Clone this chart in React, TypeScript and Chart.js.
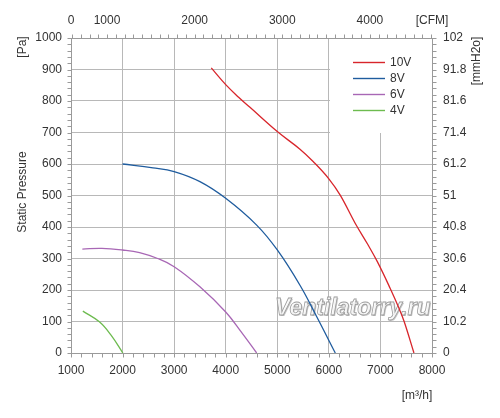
import { useEffect, useRef } from "react";
import { Chart, registerables } from "chart.js";

Chart.register(...registerables);

// ---- data ----
const seriesLabels = ["10V", "8V", "6V", "4V"];

const flow10V = [3720, 4000, 4250, 4470, 5000, 5440, 5700, 6000, 6220, 6510, 6750, 6940, 7190, 7350, 7460, 7650];
const pressure10V = [905, 852, 812, 780, 703, 647, 607, 553, 501, 412, 346, 290, 205, 146, 100, 0];

const flow8V = [2000, 2590, 3000, 3500, 4000, 4600, 5000, 5440, 5765, 6125];
const pressure8V = [600, 588, 576, 544, 491, 406, 327, 215, 115, 0];

const flow6V = [1220, 1600, 2000, 2330, 2680, 3000, 3500, 4000, 4300, 4600];
const pressure6V = [330, 332, 327, 319, 300, 274, 210, 130, 67, 0];

const flow4V = [1230, 1550, 1780, 2005];
const pressure4V = [133, 99, 56, 0];

const flowTicks = [1000, 2000, 3000, 4000, 5000, 6000, 7000, 8000];
const pressureTicks = [0, 100, 200, 300, 400, 500, 600, 700, 800, 900, 1000];
const mmH2oTicks = [0, 10.2, 20.4, 30.6, 40.8, 51, 61.2, 71.4, 81.6, 91.8, 102];
const cfmTicks = [1000, 2000, 3000, 4000];
const cfmEdgeLabels = ["0", "[CFM]"];

const M3H_PER_CFM = 1.699;
const MINOR_FLOW_STEP = 200;
const MINOR_CFM_STEP = 100;
const MINOR_PA_STEP = 20;
const MINOR_MM_STEP = 2.04;

// ---- styles ----
const seriesColors = ["#d8252b", "#1f5c9e", "#a867b5", "#6dbb4f"];
const FONT = "'Liberation Sans', Arial, sans-serif";
const TEXT = "#333333";
const GRID = "#b8b8b8";
const BORDER = "#9a9a9a";

const crisp = (v: number) => Math.round(v) + 0.5;

const decorPlugin = {
  id: "decor",
  beforeDatasetsDraw(chart: any) {
    const { ctx, chartArea, scales } = chart;
    const x = scales.x;
    const y = scales.y;
    const bx = crisp(x.getPixelForValue(6000)) + 0.5;
    const by = crisp(y.getPixelForValue(1000)) + 0.5;
    const bb = crisp(y.getPixelForValue(700)) - 0.5;
    const br = crisp(chartArea.right) - 0.5;
    ctx.save();
    ctx.fillStyle = "#ffffff";
    ctx.fillRect(bx, by, br - bx, bb - by);
    ctx.restore();

    // watermark
    ctx.save();
    ctx.font = `italic bold 23px ${FONT}`;
    ctx.textBaseline = "alphabetic";
    ctx.textAlign = "left";
    const wx = chartArea.left + 204;
    const wy = chartArea.bottom - 38;
    ctx.fillStyle = "rgba(160,160,160,0.6)";
    ctx.fillText("Ventilatorry.ru", wx + 1, wy + 1);
    ctx.fillStyle = "rgba(255,255,255,0.8)";
    ctx.fillText("Ventilatorry.ru", wx, wy);
    ctx.strokeStyle = "rgba(150,150,150,0.95)";
    ctx.lineWidth = 0.8;
    ctx.strokeText("Ventilatorry.ru", wx, wy);
    ctx.restore();
  },
  afterDraw(chart: any) {
    const { ctx, chartArea, scales } = chart;
    const { left, right, top, bottom } = chartArea;
    ctx.save();
    ctx.strokeStyle = BORDER;
    ctx.lineWidth = 1;
    ctx.beginPath();
    const TL = 4;
    for (let v = 0; v <= 1000 + 1e-6; v += MINOR_PA_STEP) {
      const py = crisp(scales.y.getPixelForValue(v));
      ctx.moveTo(crisp(left) - TL, py);
      ctx.lineTo(crisp(left), py);
    }
    for (let i = 0; i <= 50; i++) {
      const py = crisp(scales.y2.getPixelForValue(i * MINOR_MM_STEP));
      ctx.moveTo(crisp(right), py);
      ctx.lineTo(crisp(right) + TL, py);
    }
    for (let v = 1000; v <= 8000; v += MINOR_FLOW_STEP) {
      const px = crisp(scales.x.getPixelForValue(v));
      ctx.moveTo(px, crisp(bottom));
      ctx.lineTo(px, crisp(bottom) + TL);
    }
    for (let v = 600; v <= 4700; v += MINOR_CFM_STEP) {
      const px = crisp(scales.x2.getPixelForValue(v));
      ctx.moveTo(px, crisp(top) - TL);
      ctx.lineTo(px, crisp(top));
    }
    ctx.stroke();

    // legend
    ctx.font = `12px ${FONT}`;
    ctx.textBaseline = "middle";
    ctx.textAlign = "left";
    chart.data.datasets.forEach((ds: any, i: number) => {
      const ly = Math.round(top + 24 + i * 15.9) + 0.5;
      const lx = right - 79;
      ctx.strokeStyle = ds.borderColor;
      ctx.lineWidth = 1.4;
      ctx.beginPath();
      ctx.moveTo(lx, ly);
      ctx.lineTo(lx + 32, ly);
      ctx.stroke();
      ctx.fillStyle = TEXT;
      ctx.fillText(ds.label, lx + 37, ly + 0.5);
    });

    // axis titles
    ctx.fillStyle = TEXT;
    ctx.font = `12px ${FONT}`;
    ctx.textAlign = "center";
    const rot = (text: string, cx: number, cy: number) => {
      ctx.save();
      ctx.translate(cx, cy);
      ctx.rotate(-Math.PI / 2);
      ctx.fillText(text, 0, 0);
      ctx.restore();
    };
    rot("[Pa]", 23, 47);
    rot("Static Pressure", 23, 192);
    rot("[mmH2o]", 477, 61);
    ctx.fillText("[m\u00b3/h]", 417, 396);
    ctx.restore();
  },
};

export default function App() {
  const ref = useRef<HTMLCanvasElement>(null);

  useEffect(() => {
    if (!ref.current) return;
    const flows = [flow10V, flow8V, flow6V, flow4V];
    const pressures = [pressure10V, pressure8V, pressure6V, pressure4V];
    const tickFont = { family: FONT, size: 12 };
    const plain = (v: any) => String(v);

    const chart = new Chart(ref.current, {
      type: "line",
      data: {
        datasets: seriesLabels.map((label, i) => ({
          label,
          data: flows[i].map((q, j) => ({ x: q, y: pressures[i][j] })),
          borderColor: seriesColors[i],
          backgroundColor: seriesColors[i],
          borderWidth: 1.3,
          pointRadius: 0,
          fill: false,
          tension: 0.4,
          xAxisID: "x",
          yAxisID: "y",
        })),
      },
      options: {
        animation: false,
        responsive: false,
        devicePixelRatio: 1,
        layout: { padding: 0 },
        plugins: { legend: { display: false }, tooltip: { enabled: false } },
        scales: {
          x: {
            type: "linear",
            position: "bottom",
            min: 1000,
            max: 8000,
            afterBuildTicks: (s: any) => {
              s.ticks = flowTicks.map((v) => ({ value: v }));
            },
            afterFit: (s: any) => {
              s.height = 65;
            },
            ticks: { font: tickFont, color: TEXT, padding: 10, maxRotation: 0, autoSkip: false, callback: plain },
            grid: { color: GRID, drawTicks: false, lineWidth: 1 },
            border: { color: BORDER },
          },
          x2: {
            type: "linear",
            position: "top",
            min: 1000 / M3H_PER_CFM,
            max: 8000 / M3H_PER_CFM,
            afterBuildTicks: (s: any) => {
              s.ticks = [
                { value: s.min },
                ...cfmTicks.map((v) => ({ value: v })),
                { value: s.max },
              ];
            },
            afterFit: (s: any) => {
              s.height = 38;
            },
            ticks: {
              font: tickFont,
              color: TEXT,
              padding: 10,
              maxRotation: 0,
              autoSkip: false,
              callback: (v: any, i: number, arr: any[]) =>
                i === 0 ? cfmEdgeLabels[0] : i === arr.length - 1 ? cfmEdgeLabels[1] : String(v),
            },
            grid: { drawOnChartArea: false, drawTicks: false },
            border: { color: BORDER },
          },
          y: {
            type: "linear",
            position: "left",
            min: 0,
            max: 1000,
            afterBuildTicks: (s: any) => {
              s.ticks = pressureTicks.map((v) => ({ value: v }));
            },
            afterFit: (s: any) => {
              s.width = 71;
            },
            ticks: { font: tickFont, color: TEXT, padding: 9, callback: plain },
            grid: { color: GRID, drawTicks: false, lineWidth: 1 },
            border: { color: BORDER },
          },
          y2: {
            type: "linear",
            position: "right",
            min: 0,
            max: 102,
            afterBuildTicks: (s: any) => {
              s.ticks = mmH2oTicks.map((v) => ({ value: v }));
            },
            afterFit: (s: any) => {
              s.width = 68;
            },
            ticks: {
              font: tickFont,
              color: TEXT,
              padding: 11,
              callback: (v: any) => String(Number(Number(v).toFixed(1))),
            },
            grid: { drawOnChartArea: false, drawTicks: false },
            border: { color: BORDER },
          },
        },
      },
      plugins: [decorPlugin],
    } as any);

    return () => chart.destroy();
  }, []);

  return (
    <div style={{ position: "absolute", left: 0, top: 0, width: 500, height: 418, background: "#fff" }}>
      <canvas ref={ref} width={500} height={418} style={{ width: 500, height: 418, display: "block" }} />
    </div>
  );
}
